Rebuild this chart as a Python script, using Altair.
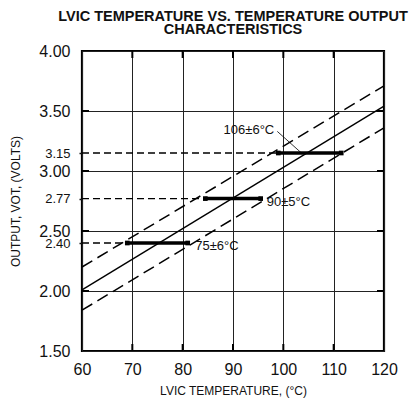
import altair as alt
import pandas as pd

# ---- data ----
temp_ends = [60, 120]
nominal = [2.01, 3.54]
upper = [2.20, 3.71]
lower = [1.84, 3.36]

point_v = [2.40, 2.77, 3.15]
bar_lo = [69, 84.5, 99]
bar_hi = [81, 95.5, 111.5]

labels = ["75±6°C", "90±5°C", "106±6°C"]
label_x = [82.5, 96.7, 98.2]
label_y = [2.375, 2.744, 3.34]
label_align = ["left", "left", "right"]

callout_x = [98.8, 103.6]
callout_y = [3.33, 3.15]

x_ticks = [60, 70, 80, 90, 100, 110, 120]
y_major = [1.5, 2.0, 2.5, 3.0, 3.5, 4.0]
y_extra = [2.40, 2.77, 3.15]

x_min, x_max = x_ticks[0], x_ticks[-1]
y_min, y_max = y_major[0], y_major[-1]

# ---- tables ----
lines = pd.DataFrame({
    "t": temp_ends * 3,
    "v": nominal + upper + lower,
    "s": ["nominal"] * 2 + ["upper"] * 2 + ["lower"] * 2,
})
bars = pd.DataFrame({"v": point_v, "lo": bar_lo, "hi": bar_hi, "x0": [x_min] * 3})
caps = pd.DataFrame({"t": bar_lo + bar_hi, "v": point_v + point_v})
lab = pd.DataFrame({"x": label_x, "y": label_y, "text": labels, "align": label_align})
callout = pd.DataFrame({"x": [callout_x[0]], "x2": [callout_x[1]],
                        "y": [callout_y[0]], "y2": [callout_y[1]]})
inner_y = y_major[1:-1]
inner_x = x_ticks[1:-1]
ticks_h = pd.DataFrame({"x": [x_min] * len(inner_y) + [x_max] * len(inner_y),
                        "y": inner_y * 2})
ticks_v = pd.DataFrame({"x": inner_x * 2,
                        "y": [y_min] * len(inner_x) + [y_max] * len(inner_x)})

xs = alt.Scale(domain=[x_min, x_max], nice=False, zero=False)
ys = alt.Scale(domain=[y_min, y_max], nice=False, zero=False)

extra_test = "indexof([2.4, 2.77, 3.15], datum.value) >= 0"

x_axis = alt.Axis(
    values=x_ticks, tickCount=20, title="LVIC TEMPERATURE, (°C)", labelFontSize=16,
    tickSize=0, labelPadding=10, labelFlush=False, labelOverlap=False,
    domain=False, grid=True,
    gridColor="#222", gridWidth=1, titleFontSize=12, titleFontWeight="normal",
    titleColor="#111", labelColor="#111", titlePadding=8,
)
y_axis = alt.Axis(
    values=y_major + y_extra, tickCount=20, format=".2f", title="OUTPUT, VOT, (VOLTS)",
    labelFontSize={"condition": {"test": extra_test, "value": 13}, "value": 16},
    gridOpacity={"condition": {"test": extra_test, "value": 0}, "value": 1},
    tickOpacity={"condition": {"test": extra_test, "value": 1}, "value": 0},
    tickSize=3, tickColor="#111", tickWidth=1.5, labelPadding=9,
    labelOverlap=False, labelBound=False, labelFlush=False, domain=False, grid=True,
    gridColor="#222", gridWidth=1, titleFontSize=12, titleFontWeight="normal",
    titleColor="#111", labelColor="#111", titlePadding=16,
)

base_lines = alt.Chart(lines).encode(
    x=alt.X("t:Q", scale=xs, axis=x_axis),
    y=alt.Y("v:Q", scale=ys, axis=y_axis),
    detail="s:N",
)
solid = base_lines.transform_filter("datum.s == 'nominal'").mark_line(
    color="black", strokeWidth=1.4)
dashed = base_lines.transform_filter("datum.s != 'nominal'").mark_line(
    color="black", strokeWidth=1.5, strokeDash=[12, 6])

leaders = alt.Chart(bars).mark_rule(color="black", strokeWidth=1.4, strokeDash=[7, 4]).encode(
    x=alt.X("x0:Q", scale=xs), x2="lo:Q", y=alt.Y("v:Q", scale=ys))
thick = alt.Chart(bars).mark_rule(color="black", strokeWidth=3.5).encode(
    x=alt.X("lo:Q", scale=xs), x2="hi:Q", y=alt.Y("v:Q", scale=ys))
endcaps = alt.Chart(caps).mark_square(color="black", size=22, opacity=1).encode(
    x=alt.X("t:Q", scale=xs), y=alt.Y("v:Q", scale=ys))

text_left = alt.Chart(lab).transform_filter("datum.align == 'left'").mark_text(
    align="left", baseline="middle", fontSize=13, color="#111").encode(
    x=alt.X("x:Q", scale=xs), y=alt.Y("y:Q", scale=ys), text="text:N")
text_right = alt.Chart(lab).transform_filter("datum.align == 'right'").mark_text(
    align="right", baseline="middle", fontSize=13, color="#111").encode(
    x=alt.X("x:Q", scale=xs), y=alt.Y("y:Q", scale=ys), text="text:N")
pointer = alt.Chart(callout).mark_rule(color="black", strokeWidth=0.8).encode(
    x=alt.X("x:Q", scale=xs), x2="x2:Q", y=alt.Y("y:Q", scale=ys), y2="y2:Q")

# short inward frame ticks (half of each tick is clipped away outside the frame)
frame_h = alt.Chart(ticks_h).mark_tick(
    orient="horizontal", size=14, thickness=2, color="black", clip=True, opacity=1
).encode(x=alt.X("x:Q", scale=xs), y=alt.Y("y:Q", scale=ys))
frame_v = alt.Chart(ticks_v).mark_tick(
    orient="vertical", size=14, thickness=2, color="black", clip=True, opacity=1
).encode(x=alt.X("x:Q", scale=xs), y=alt.Y("y:Q", scale=ys))

chart = alt.layer(
    solid, dashed, leaders, thick, endcaps, pointer, frame_h, frame_v,
    text_left, text_right
).properties(
    width=302, height=300,
    autosize=alt.AutoSizeParams(type="none"),
    padding={"left": 74, "top": 43, "right": 25, "bottom": 47},
    title=alt.TitleParams(
        text=["LVIC TEMPERATURE VS. TEMPERATURE OUTPUT", "CHARACTERISTICS"],
        fontSize=14.5, fontWeight="bold", anchor="middle", baseline="bottom",
        offset=-8.5, lineHeight=13.5, color="#111",
    ),
).configure(font="Liberation Sans").configure_view(
    stroke="black", strokeWidth=2.2
)

chart.save("out.html", embed_options={"renderer": "svg", "actions": False})
